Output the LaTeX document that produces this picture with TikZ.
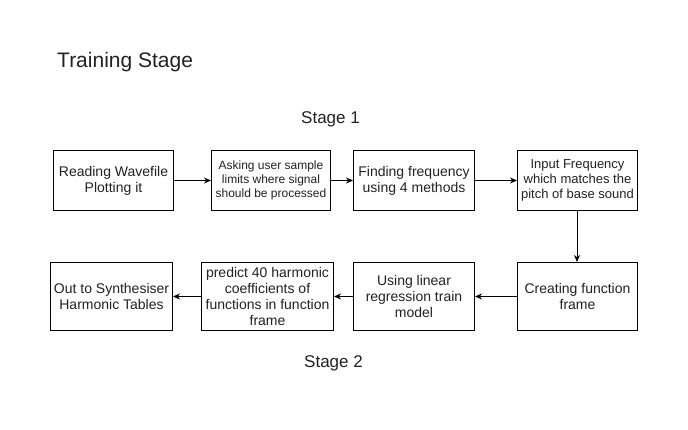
\documentclass[tikz,border=0pt]{standalone}
\usepackage{fontspec}
\setmainfont{Liberation Sans}
\usetikzlibrary{arrows.meta}
\definecolor{txt}{HTML}{222222}
\tikzset{
  stagebox/.style={draw=black, line width=1pt, text=txt, align=center, inner sep=0pt, anchor=north west},
  flow/.style={draw=black, line width=1pt, -{Stealth[length=7pt,width=6pt]}},
  lbl/.style={text=txt, inner sep=0pt},
}
\begin{document}
\begin{tikzpicture}[x=1pt,y=-1pt]
\useasboundingbox (0,0) rectangle (688,430);
\fill[white] (0,0) rectangle (688,430);
\node[lbl, anchor=west, font=\fontsize{21}{24}\selectfont] (title) at (57,62) {Training Stage};
\node[lbl, font=\fontsize{17}{20}\selectfont] (s1) at (330.5,119) {Stage 1};
\node[lbl, font=\fontsize{17}{20}\selectfont] (s2) at (333.5,363) {Stage 2};

\node[stagebox, minimum width=120pt, minimum height=60pt, font=\fontsize{14}{16}\selectfont] (b1) at (53,150) {Reading Wavefile\\Plotting it};
\node[stagebox, minimum width=119pt, minimum height=60pt, font=\fontsize{12}{14}\selectfont] (b2) at (211,150) {Asking user sample\\limits where signal\\should be processed};
\node[stagebox, minimum width=121pt, minimum height=60pt, font=\fontsize{14}{16}\selectfont] (b3) at (353,150) {Finding frequency\\using 4 methods};
\node[stagebox, minimum width=120pt, minimum height=60pt, font=\fontsize{13}{15}\selectfont] (b4) at (517,150) {Input Frequency\\which matches the\\pitch of base sound};

\node[stagebox, minimum width=120pt, minimum height=68pt, font=\fontsize{14}{16}\selectfont] (b5) at (517,262) {Creating function\\frame};
\node[stagebox, minimum width=121pt, minimum height=68pt, font=\fontsize{14}{16}\selectfont] (b6) at (353,262) {Using linear\\regression train\\model};
\node[stagebox, minimum width=132pt, minimum height=68pt, font=\fontsize{14}{16}\selectfont] (b7) at (201,262) {predict 40 harmonic\\coefficients of\\functions in function\\frame};
\node[stagebox, minimum width=122pt, minimum height=68pt, font=\fontsize{14}{16}\selectfont] (b8) at (50,262) {Out to Synthesiser\\Harmonic Tables};

\draw[flow] (b1) -- (b2);
\draw[flow] (b2) -- (b3);
\draw[flow] (b3) -- (b4);
\draw[flow] (b4.south -| 577,0) -- (b5.north -| 577,0);
\draw[flow] (b5) -- (b6);
\draw[flow] (b6) -- (b7);
\draw[flow] (b7) -- (b8);
\end{tikzpicture}
\end{document}
